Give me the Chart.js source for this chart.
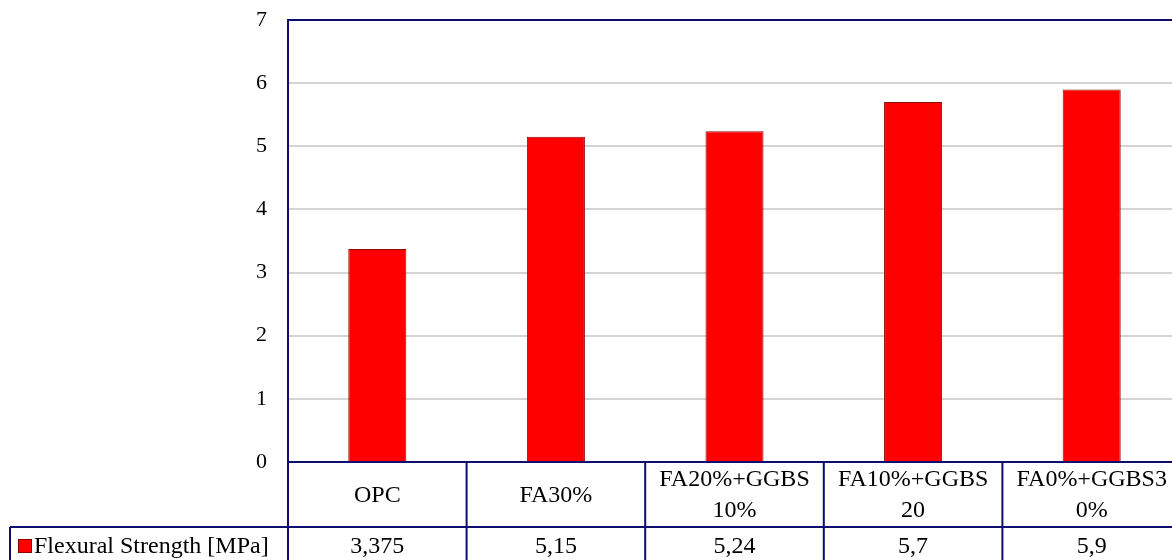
<!DOCTYPE html>
<html>
<head>
<meta charset="utf-8">
<script src="https://cdn.jsdelivr.net/npm/chart.js@4.4.1/dist/chart.umd.min.js"></script>
<style>
  html, body { margin: 0; padding: 0; background: #ffffff; overflow: hidden; }
  #wrap { position: relative; width: 1190px; height: 568px; }
</style>
</head>
<body>
<div id="wrap"><canvas id="flexChart"></canvas></div>
<script>
// Mix designs and measured flexural strength
const mixLabels = [['OPC'], ['FA30%'], ['FA20%+GGBS', '10%'], ['FA10%+GGBS', '20'], ['FA0%+GGBS3', '0%']];
const flexuralStrength = [3.375, 5.15, 5.24, 5.7, 5.9];
const seriesName = 'Flexural Strength [MPa]';
const yTicks = [0, 1, 2, 3, 4, 5, 6, 7];

const FRAME = '#0e0e6e';
const SERIF = '"Liberation Serif", "Times New Roman", serif';

// Excel-style data table under the plot, aligned with the category scale
const dataTablePlugin = {
    id: 'dataTable',
    afterDraw(chart) {
        const ctx = chart.ctx;
        const area = chart.chartArea;
        const x = chart.scales.x;
        const half = (x.getPixelForValue(1) - x.getPixelForValue(0)) / 2;
        const rowTop = area.bottom;
        const rowMid = area.bottom + 65;
        const rowEnd = chart.height;

        ctx.save();
        ctx.strokeStyle = FRAME;
        ctx.lineWidth = 2;

        // plot frame
        ctx.beginPath();
        ctx.moveTo(area.left, area.bottom);
        ctx.lineTo(area.left, area.top);
        ctx.lineTo(area.right, area.top);
        ctx.lineTo(area.right, area.bottom);
        ctx.lineTo(area.left, area.bottom);
        ctx.stroke();

        // table grid
        ctx.beginPath();
        for (let i = 0; i <= mixLabels.length; i++) {
            const bx = x.getPixelForValue(i) - half;
            ctx.moveTo(bx, rowTop);
            ctx.lineTo(bx, rowEnd);
        }
        ctx.moveTo(10, rowMid);
        ctx.lineTo(area.right, rowMid);
        ctx.moveTo(10, rowMid);
        ctx.lineTo(10, rowEnd);
        ctx.stroke();

        ctx.fillStyle = '#000000';
        ctx.font = '24px ' + SERIF;
        ctx.textAlign = 'center';
        ctx.textBaseline = 'middle';
        const lineH = 31;
        mixLabels.forEach((lines, i) => {
            const cx = x.getPixelForValue(i);
            const cy = (rowTop + rowMid) / 2 + 1;
            lines.forEach((txt, k) => {
                ctx.fillText(txt, cx, cy + (k - (lines.length - 1) / 2) * lineH);
            });
            const val = String(flexuralStrength[i]).replace('.', ',');
            ctx.fillText(val, cx, rowMid + 20);
        });

        // legend key
        ctx.fillStyle = '#ff0000';
        ctx.fillRect(18, rowMid + 12, 14, 14);
        ctx.strokeStyle = '#8b0000';
        ctx.lineWidth = 1;
        ctx.strokeRect(18.5, rowMid + 12.5, 13, 13);
        ctx.fillStyle = '#000000';
        ctx.textAlign = 'left';
        ctx.fillText(seriesName, 34, rowMid + 20);
        ctx.restore();
    }
};

new Chart(document.getElementById('flexChart'), {
    type: 'bar',
    data: {
        labels: mixLabels,
        datasets: [{
            label: seriesName,
            data: flexuralStrength,
            backgroundColor: '#ff0000',
            borderColor: '#8e0c0c',
            borderWidth: 1,
            categoryPercentage: 1,
            barPercentage: 0.325
        }]
    },
    options: {
        responsive: true,
        maintainAspectRatio: false,
        animation: false,
        layout: { padding: { top: 20, right: 9, bottom: 106, left: 0 } },
        plugins: {
            legend: { display: false },
            tooltip: { enabled: false }
        },
        scales: {
            x: {
                display: false
            },
            y: {
                min: 0,
                max: 7,
                afterFit(scale) {
                    scale.width = 288;
                    scale.paddingTop = 0;
                    scale.paddingBottom = 0;
                },
                afterBuildTicks(scale) { scale.ticks = yTicks.map(v => ({ value: v })); },
                ticks: {
                    color: '#000000',
                    padding: 21,
                    font: { family: SERIF, size: 22 }
                },
                border: { display: false },
                grid: {
                    drawTicks: false,
                    color: ctx => (ctx.tick.value === 0 || ctx.tick.value === 7) ? 'rgba(0,0,0,0)' : '#d4d4d4',
                    lineWidth: 2
                }
            }
        }
    },
    plugins: [dataTablePlugin]
});
</script>
</body>
</html>
